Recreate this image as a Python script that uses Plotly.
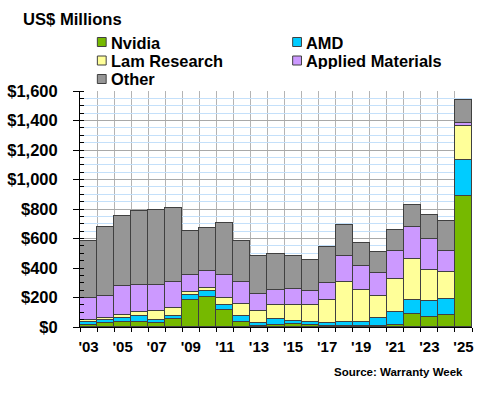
import plotly.graph_objects as go

years = list(range(2003, 2026))
series_names = ["Nvidia", "AMD", "Lam Research", "Applied Materials", "Other"]

nvidia = [15, 25, 31, 36, 25, 52, 186, 204, 115, 34, 7, 16, 20, 16, 9, 7, 7, 9, 13, 88, 67, 79, 888]
amd = [20, 20, 27, 40, 22, 24, 30, 39, 33, 40, 22, 36, 18, 15, 18, 27, 27, 52, 88, 96, 106, 110, 242]
lam = [10, 15, 21, 23, 61, 50, 22, 24, 50, 81, 81, 94, 113, 120, 157, 274, 215, 146, 223, 274, 216, 182, 232]
applied = [153, 150, 200, 184, 175, 177, 117, 113, 153, 153, 117, 106, 105, 96, 117, 175, 162, 161, 191, 221, 211, 146, 18]
other = [386, 470, 471, 503, 510, 504, 294, 290, 352, 272, 256, 242, 225, 207, 243, 211, 157, 140, 143, 146, 159, 202, 157]

tick_years = list(range(2003, 2026, 2))
tick_labels = ["'03", "'05", "'07", "'09", "'11", "'13", "'15", "'17", "'19", "'21", "'23", "'25"]

colors = ["#76b900", "#00ccff", "#ffff99", "#cc99ff", "#969696"]
values = [nvidia, amd, lam, applied, other]

FONT = "Liberation Sans, Arial, sans-serif"

fig = go.Figure()
for name, vals, col in zip(series_names, values, colors):
    fig.add_trace(go.Bar(
        x=years, y=vals, name=name,
        marker=dict(color=col, line=dict(color="#404040", width=1)),
        showlegend=False,
    ))

W, H = 480, 400
L, R, T, B = 73, 7, 91, 73
pw, ph = W - L - R, H - T - B

def px_x(x):
    return (x - L) / pw

def px_y(y):
    return (H - B - y) / ph

# manual legend (two columns)
legend_pos = [(90.7, 42.0), (290.0, 42.0), (90.7, 60.5), (290.0, 60.5), (90.7, 79.0)]
for name, col, (lx, ly) in zip(series_names, colors, legend_pos):
    fig.add_shape(type="rect", xref="paper", yref="paper",
                  x0=px_x(lx), x1=px_x(lx + 9), y0=px_y(ly - 4.5), y1=px_y(ly + 4.5),
                  fillcolor=col, line=dict(color="#404040", width=1))
    fig.add_annotation(text=name, xref="paper", yref="paper",
                       x=px_x(lx + 12.5), y=px_y(ly), xanchor="left", yanchor="middle",
                       height=17, borderpad=0, valign="middle",
                       showarrow=False, font=dict(family=FONT, size=16.4, color="black", weight="bold"))

fig.add_annotation(text="US$ Millions", xref="paper", yref="paper",
                   x=px_x(13), y=px_y(20), xanchor="left", yanchor="middle",
                   showarrow=False, font=dict(family=FONT, size=16.6, color="black", weight="bold"))
fig.add_annotation(text="Source: Warranty Week", xref="paper", yref="paper",
                   x=px_x(466), y=px_y(372), xanchor="right", yanchor="middle",
                   showarrow=False, font=dict(family=FONT, size=11.5, color="black", weight="bold"))

fig.update_layout(
    width=W, height=H,
    margin=dict(l=L, r=R, t=T, b=B, pad=0),
    barmode="stack", bargap=0,
    plot_bgcolor="white", paper_bgcolor="white",
    font=dict(family=FONT, color="black"),
    xaxis=dict(
        range=[2002.5, 2025.5],
        tickmode="array", tickvals=tick_years, ticktext=tick_labels,
        ticks="", showgrid=False,
        tickfont=dict(size=15, weight="bold", color="black"),
        ticklabelstandoff=6,
        showline=True, linecolor="black", linewidth=1,
        minor=dict(tick0=2002.5, dtick=1, ticks="outside", ticklen=4,
                   tickcolor="black", showgrid=True, gridcolor="#b4b4b4", gridwidth=1),
        zeroline=False,
    ),
    yaxis=dict(
        range=[0, 1600], dtick=200, tick0=0,
        tickprefix="$", tickformat=",d",
        ticks="outside", ticklen=6, tickcolor="black",
        tickfont=dict(size=16.5, weight="bold", color="black"),
        ticklabelstandoff=12,
        showgrid=True, gridcolor="#a8a8a8", gridwidth=1,
        showline=True, linecolor="black", linewidth=1,
        minor=dict(dtick=50, ticks="inside", ticklen=4, tickcolor="black",
                   showgrid=True, gridcolor="#c4e0fa", gridwidth=1),
        zeroline=False,
    ),
)

fig.write_html("out.html")
